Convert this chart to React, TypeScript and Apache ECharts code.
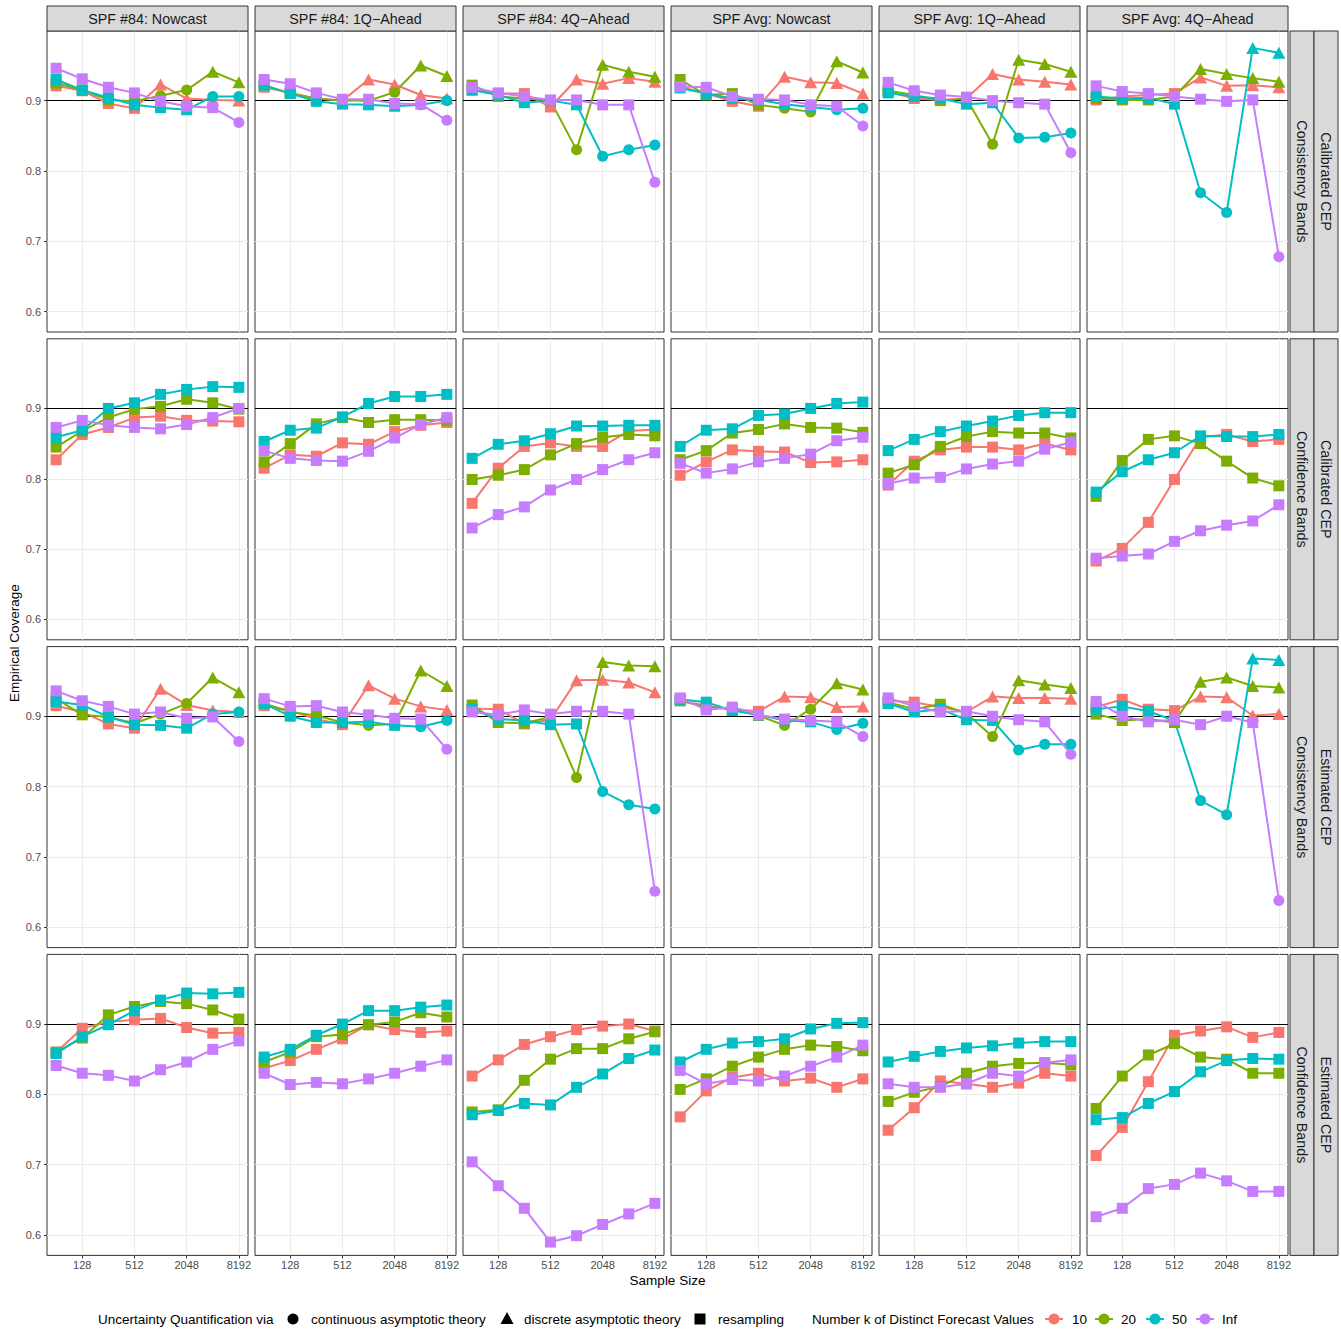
import React, { useEffect, useRef } from 'react';
import * as echarts from 'echarts';

const FONT = '"Liberation Sans", Arial, sans-serif';

const SAMPLE_SIZES = [64, 128, 256, 512, 1024, 2048, 4096, 8192];
const X_TICKS = [128, 512, 2048, 8192];
const Y_TICKS = [0.6, 0.7, 0.8, 0.9];
const TARGET_COVERAGE = 0.9;
const K_LEVELS = ['10', '20', '50', 'Inf'];
const K_COLORS = ['#F8766D', '#7CAE00', '#00BFC4', '#C77CFF'];
const COLUMNS = [
  'SPF #84: Nowcast',
  'SPF #84: 1Q\u2212Ahead',
  'SPF #84: 4Q\u2212Ahead',
  'SPF Avg: Nowcast',
  'SPF Avg: 1Q\u2212Ahead',
  'SPF Avg: 4Q\u2212Ahead',
];
const ROW_CEP = ['Calibrated CEP', 'Calibrated CEP', 'Estimated CEP', 'Estimated CEP'];
const ROW_BAND = ['Consistency Bands', 'Confidence Bands', 'Consistency Bands', 'Confidence Bands'];
const METHODS = ['continuous asymptotic theory', 'discrete asymptotic theory', 'resampling'];

// ---- Calibrated CEP, Consistency Bands (series order: k = 10, 20, 50, Inf)
const calCons84Now = [
  [0.921, 0.914, 0.896, 0.889, 0.923, 0.903, 0.901, 0.900],
  [0.925, 0.915, 0.901, 0.899, 0.907, 0.915, 0.941, 0.926],
  [0.930, 0.915, 0.904, 0.894, 0.890, 0.887, 0.906, 0.906],
  [0.946, 0.931, 0.919, 0.911, 0.899, 0.892, 0.890, 0.869],
];
const calCons84Q1 = [
  [0.919, 0.911, 0.903, 0.900, 0.930, 0.923, 0.908, 0.903],
  [0.922, 0.910, 0.903, 0.900, 0.900, 0.912, 0.950, 0.935],
  [0.922, 0.910, 0.899, 0.895, 0.894, 0.892, 0.894, 0.900],
  [0.930, 0.924, 0.911, 0.902, 0.902, 0.896, 0.895, 0.872],
];
const calCons84Q4 = [
  [0.915, 0.910, 0.910, 0.891, 0.930, 0.924, 0.932, 0.927],
  [0.922, 0.906, 0.903, 0.900, 0.830, 0.951, 0.941, 0.934],
  [0.915, 0.908, 0.897, 0.900, 0.894, 0.821, 0.830, 0.837],
  [0.919, 0.911, 0.906, 0.901, 0.901, 0.894, 0.894, 0.784],
];
const calConsAvgNow = [
  [0.920, 0.910, 0.899, 0.892, 0.934, 0.926, 0.925, 0.910],
  [0.930, 0.908, 0.910, 0.894, 0.889, 0.884, 0.956, 0.940],
  [0.918, 0.910, 0.903, 0.901, 0.895, 0.891, 0.887, 0.889],
  [0.920, 0.919, 0.906, 0.902, 0.901, 0.894, 0.892, 0.864],
];
const calConsAvgQ1 = [
  [0.913, 0.903, 0.901, 0.903, 0.938, 0.930, 0.927, 0.923],
  [0.914, 0.908, 0.900, 0.903, 0.838, 0.958, 0.952, 0.941],
  [0.911, 0.906, 0.903, 0.895, 0.897, 0.847, 0.848, 0.854],
  [0.926, 0.914, 0.908, 0.905, 0.900, 0.897, 0.895, 0.826],
];
const calConsAvgQ4 = [
  [0.901, 0.906, 0.908, 0.910, 0.933, 0.921, 0.922, 0.919],
  [0.903, 0.901, 0.901, 0.906, 0.945, 0.938, 0.932, 0.927],
  [0.906, 0.903, 0.904, 0.895, 0.769, 0.741, 0.975, 0.968],
  [0.921, 0.913, 0.910, 0.906, 0.902, 0.899, 0.901, 0.678],
];

// ---- Calibrated CEP, Confidence Bands
const calConf84Now = [
  [0.827, 0.863, 0.873, 0.887, 0.889, 0.883, 0.882, 0.881],
  [0.845, 0.868, 0.887, 0.899, 0.903, 0.913, 0.908, 0.899],
  [0.859, 0.869, 0.900, 0.908, 0.920, 0.927, 0.931, 0.930],
  [0.873, 0.883, 0.876, 0.873, 0.871, 0.877, 0.887, 0.900],
];
const calConf84Q1 = [
  [0.815, 0.834, 0.832, 0.851, 0.849, 0.867, 0.876, 0.880],
  [0.824, 0.850, 0.878, 0.887, 0.880, 0.884, 0.884, 0.883],
  [0.853, 0.869, 0.872, 0.888, 0.907, 0.917, 0.917, 0.920],
  [0.840, 0.829, 0.826, 0.825, 0.839, 0.858, 0.877, 0.887],
];
const calConf84Q4 = [
  [0.765, 0.815, 0.846, 0.851, 0.846, 0.846, 0.868, 0.870],
  [0.799, 0.805, 0.813, 0.834, 0.850, 0.859, 0.863, 0.861],
  [0.829, 0.849, 0.854, 0.864, 0.875, 0.875, 0.876, 0.876],
  [0.730, 0.749, 0.760, 0.784, 0.799, 0.813, 0.827, 0.837],
];
const calConfAvgNow = [
  [0.805, 0.824, 0.841, 0.839, 0.838, 0.823, 0.824, 0.827],
  [0.827, 0.840, 0.865, 0.870, 0.878, 0.873, 0.872, 0.866],
  [0.846, 0.869, 0.871, 0.890, 0.892, 0.900, 0.907, 0.909],
  [0.822, 0.808, 0.814, 0.824, 0.829, 0.835, 0.854, 0.859],
];
const calConfAvgQ1 = [
  [0.791, 0.825, 0.841, 0.845, 0.845, 0.841, 0.850, 0.841],
  [0.808, 0.820, 0.846, 0.860, 0.867, 0.865, 0.865, 0.858],
  [0.840, 0.856, 0.867, 0.875, 0.882, 0.890, 0.894, 0.894],
  [0.793, 0.801, 0.802, 0.814, 0.821, 0.825, 0.842, 0.852],
];
const calConfAvgQ4 = [
  [0.683, 0.701, 0.738, 0.799, 0.859, 0.863, 0.853, 0.856],
  [0.775, 0.826, 0.856, 0.861, 0.850, 0.825, 0.801, 0.790],
  [0.781, 0.810, 0.827, 0.837, 0.861, 0.860, 0.860, 0.863],
  [0.687, 0.690, 0.693, 0.711, 0.726, 0.734, 0.740, 0.763],
];

// ---- Estimated CEP, Consistency Bands
const estCons84Now = [
  [0.915, 0.906, 0.889, 0.883, 0.939, 0.916, 0.908, 0.906],
  [0.925, 0.902, 0.899, 0.890, 0.903, 0.918, 0.955, 0.934],
  [0.921, 0.916, 0.899, 0.888, 0.887, 0.883, 0.903, 0.906],
  [0.936, 0.922, 0.914, 0.903, 0.906, 0.897, 0.899, 0.864],
];
const estCons84Q1 = [
  [0.915, 0.908, 0.896, 0.888, 0.944, 0.925, 0.914, 0.909],
  [0.918, 0.906, 0.901, 0.891, 0.887, 0.889, 0.965, 0.943],
  [0.918, 0.900, 0.891, 0.891, 0.892, 0.887, 0.885, 0.894],
  [0.925, 0.914, 0.915, 0.906, 0.902, 0.897, 0.896, 0.853],
];
const estCons84Q4 = [
  [0.911, 0.910, 0.889, 0.895, 0.951, 0.952, 0.948, 0.934],
  [0.916, 0.891, 0.890, 0.899, 0.813, 0.977, 0.972, 0.971],
  [0.910, 0.896, 0.894, 0.888, 0.889, 0.793, 0.774, 0.768],
  [0.906, 0.902, 0.909, 0.903, 0.907, 0.907, 0.903, 0.651],
];
const estConsAvgNow = [
  [0.922, 0.915, 0.910, 0.907, 0.928, 0.927, 0.913, 0.914],
  [0.922, 0.913, 0.910, 0.901, 0.887, 0.910, 0.947, 0.938],
  [0.924, 0.920, 0.908, 0.902, 0.894, 0.892, 0.881, 0.890],
  [0.926, 0.909, 0.913, 0.902, 0.896, 0.894, 0.892, 0.871],
];
const estConsAvgQ1 = [
  [0.922, 0.920, 0.913, 0.906, 0.928, 0.926, 0.926, 0.925],
  [0.920, 0.910, 0.917, 0.904, 0.871, 0.951, 0.945, 0.940],
  [0.918, 0.906, 0.910, 0.895, 0.894, 0.852, 0.860, 0.860],
  [0.926, 0.914, 0.906, 0.907, 0.900, 0.895, 0.892, 0.846],
];
const estConsAvgQ4 = [
  [0.913, 0.924, 0.910, 0.908, 0.928, 0.927, 0.901, 0.903],
  [0.903, 0.894, 0.896, 0.891, 0.949, 0.955, 0.943, 0.941],
  [0.910, 0.914, 0.907, 0.894, 0.780, 0.760, 0.982, 0.980],
  [0.921, 0.900, 0.892, 0.895, 0.888, 0.900, 0.891, 0.638],
];

// ---- Estimated CEP, Confidence Bands
const estConf84Now = [
  [0.860, 0.894, 0.903, 0.906, 0.908, 0.895, 0.887, 0.888],
  [0.860, 0.880, 0.913, 0.925, 0.932, 0.929, 0.920, 0.907],
  [0.858, 0.882, 0.899, 0.919, 0.934, 0.944, 0.943, 0.945],
  [0.841, 0.830, 0.827, 0.819, 0.835, 0.846, 0.864, 0.876],
];
const estConf84Q1 = [
  [0.837, 0.848, 0.864, 0.879, 0.899, 0.892, 0.888, 0.890],
  [0.846, 0.860, 0.882, 0.885, 0.899, 0.903, 0.916, 0.910],
  [0.853, 0.864, 0.884, 0.900, 0.919, 0.919, 0.924, 0.927],
  [0.830, 0.814, 0.817, 0.815, 0.822, 0.830, 0.840, 0.849],
];
const estConf84Q4 = [
  [0.826, 0.849, 0.871, 0.882, 0.892, 0.897, 0.900, 0.890],
  [0.775, 0.778, 0.820, 0.850, 0.865, 0.865, 0.879, 0.889],
  [0.771, 0.777, 0.787, 0.785, 0.810, 0.829, 0.851, 0.863],
  [0.704, 0.670, 0.638, 0.590, 0.599, 0.615, 0.630, 0.645],
];
const estConfAvgNow = [
  [0.768, 0.805, 0.824, 0.830, 0.819, 0.823, 0.810, 0.822],
  [0.807, 0.822, 0.840, 0.853, 0.864, 0.870, 0.868, 0.862],
  [0.846, 0.864, 0.873, 0.875, 0.879, 0.893, 0.901, 0.902],
  [0.834, 0.815, 0.821, 0.819, 0.826, 0.840, 0.853, 0.870],
];
const estConfAvgQ1 = [
  [0.749, 0.781, 0.819, 0.815, 0.810, 0.816, 0.830, 0.826],
  [0.790, 0.803, 0.811, 0.830, 0.840, 0.844, 0.845, 0.842],
  [0.846, 0.854, 0.861, 0.866, 0.869, 0.873, 0.875, 0.875],
  [0.815, 0.810, 0.810, 0.815, 0.830, 0.826, 0.845, 0.849],
];
const estConfAvgQ4 = [
  [0.713, 0.753, 0.818, 0.884, 0.890, 0.896, 0.881, 0.888],
  [0.780, 0.826, 0.856, 0.872, 0.853, 0.850, 0.830, 0.830],
  [0.764, 0.767, 0.787, 0.804, 0.832, 0.848, 0.851, 0.850],
  [0.626, 0.638, 0.666, 0.672, 0.688, 0.677, 0.662, 0.662],
];

// Method used at each sample size: s = resampling, c = continuous asymptotic, t = discrete asymptotic
const consShapes84Now = ['sssstttt', 'sssscctt', 'sssssscc', 'sssssssc'];
const consShapes84Q1 = ['sssstttt', 'sssscctt', 'sssssscc', 'sssssssc'];
const consShapes84Q4 = ['sssstttt', 'sssscttt', 'sssssccc', 'sssssssc'];
const consShapesAvgNow = ['sssstttt', 'sssscctt', 'sssssscc', 'sssssssc'];
const consShapesAvgQ1 = ['sssstttt', 'sssscttt', 'sssssccc', 'sssssssc'];
const consShapesAvgQ4 = ['sssstttt', 'sssstttt', 'sssscctt', 'sssssssc'];
const confShapes = ['ssssssss', 'ssssssss', 'ssssssss', 'ssssssss'];

const PANEL_VALUES = [
  [calCons84Now, calCons84Q1, calCons84Q4, calConsAvgNow, calConsAvgQ1, calConsAvgQ4],
  [calConf84Now, calConf84Q1, calConf84Q4, calConfAvgNow, calConfAvgQ1, calConfAvgQ4],
  [estCons84Now, estCons84Q1, estCons84Q4, estConsAvgNow, estConsAvgQ1, estConsAvgQ4],
  [estConf84Now, estConf84Q1, estConf84Q4, estConfAvgNow, estConfAvgQ1, estConfAvgQ4],
];
const CONS_SHAPES = [consShapes84Now, consShapes84Q1, consShapes84Q4, consShapesAvgNow, consShapesAvgQ1, consShapesAvgQ4];

// ---- layout
const W = 1341;
const H = 1331;
const LEFT0 = 47;
const COL_STEP = 208;
const PANEL_W = 201;
const TOP0 = 31;
const ROW_STEP = 307.8;
const PANEL_H = 301;
const X_MIN = 5.65;
const X_MAX = 13.35;
const Y_MIN = 0.571;
const Y_MAX = 0.999;
const STRIP_FONT = 14.3;

const SYMBOLS: Record<string, { symbol: string; size: number | number[] }> = {
  s: { symbol: 'rect', size: 11 },
  c: { symbol: 'circle', size: 11 },
  t: { symbol: 'triangle', size: [13, 12] },
};

function buildOption() {
  const grids: any[] = [];
  const xAxes: any[] = [];
  const yAxes: any[] = [];
  const series: any[] = [];
  const graphic: any[] = [];

  for (let r = 0; r < 4; r++) {
    for (let c = 0; c < 6; c++) {
      const idx = r * 6 + c;
      const left = LEFT0 + c * COL_STEP;
      const top = TOP0 + r * ROW_STEP;
      grids.push({
        left, top, width: PANEL_W, height: PANEL_H,
        show: true, borderColor: '#333333', borderWidth: 1, backgroundColor: '#FFFFFF',
        containLabel: false, outerBoundsMode: 'none',
      });
      xAxes.push({
        gridIndex: idx, type: 'value', min: X_MIN, max: X_MAX, minInterval: 1, maxInterval: 1,
        axisLine: { show: false },
        axisTick: { show: r === 3, customValues: X_TICKS.map((v) => Math.log2(v)), length: 3, lineStyle: { color: '#333333' } },
        axisLabel: {
          show: r === 3, customValues: X_TICKS.map((v) => Math.log2(v)),
          formatter: (v: number) => String(Math.round(Math.pow(2, v))),
          fontSize: 11, color: '#4D4D4D', fontFamily: FONT, margin: 4,
        },
        splitLine: { show: true, lineStyle: { color: '#EBEBEB', width: 1 } },
      });
      yAxes.push({
        gridIndex: idx, type: 'value', min: Y_MIN, max: Y_MAX, minInterval: 0.05, maxInterval: 0.05,
        axisLine: { show: false },
        axisTick: { show: c === 0, customValues: Y_TICKS, length: 3, lineStyle: { color: '#333333' } },
        axisLabel: {
          show: c === 0, customValues: Y_TICKS,
          formatter: (v: number) => v.toFixed(1),
          fontSize: 11, color: '#4D4D4D', fontFamily: FONT, margin: 6,
        },
        splitLine: { show: true, lineStyle: { color: '#EBEBEB', width: 1 } },
      });

      const vals = PANEL_VALUES[r][c];
      const shapes = r % 2 === 0 ? CONS_SHAPES[c] : confShapes;
      for (let k = 0; k < 4; k++) {
        const pts = SAMPLE_SIZES.map((n, j) => [Math.log2(n), vals[k][j]]);
        const lineSeries: any = {
          type: 'line', xAxisIndex: idx, yAxisIndex: idx, data: pts,
          showSymbol: false, symbol: 'none', silent: true, z: 2,
          lineStyle: { color: K_COLORS[k], width: 2 },
          itemStyle: { color: K_COLORS[k] },
        };
        if (k === 0) {
          lineSeries.markLine = {
            silent: true, symbol: ['none', 'none'], label: { show: false }, z: 1,
            lineStyle: { color: '#000000', width: 1, type: 'solid' },
            data: [{ yAxis: TARGET_COVERAGE }],
            animation: false,
          };
        }
        series.push(lineSeries);
        series.push({
          type: 'scatter', xAxisIndex: idx, yAxisIndex: idx, silent: true, z: 3,
          data: pts.map((p, j) => {
            const s = SYMBOLS[shapes[k][j]];
            return { value: p, symbol: s.symbol, symbolSize: s.size };
          }),
          itemStyle: { color: K_COLORS[k], opacity: 1 },
        });
      }
    }
  }

  // top strips
  for (let c = 0; c < 6; c++) {
    const left = LEFT0 + c * COL_STEP;
    graphic.push({
      type: 'rect', shape: { x: left, y: 6, width: PANEL_W, height: 25 },
      style: { fill: '#D9D9D9', stroke: '#333333', lineWidth: 1 }, z: 10,
    });
    graphic.push({
      type: 'text', x: left + PANEL_W / 2, y: 19, z: 11,
      style: { text: COLUMNS[c], fontSize: STRIP_FONT, fontFamily: FONT, fill: '#1A1A1A', align: 'center', verticalAlign: 'middle' },
    });
  }
  // right strips
  for (let r = 0; r < 4; r++) {
    const top = TOP0 + r * ROW_STEP;
    const labels = [ROW_BAND[r], ROW_CEP[r]];
    for (let j = 0; j < 2; j++) {
      const x = 1290 + j * 24;
      graphic.push({
        type: 'rect', shape: { x, y: top, width: 24, height: PANEL_H },
        style: { fill: '#D9D9D9', stroke: '#333333', lineWidth: 1 }, z: 10,
      });
      graphic.push({
        type: 'text', x: x + 12, y: top + PANEL_H / 2, rotation: -Math.PI / 2, z: 11,
        style: { text: labels[j], fontSize: STRIP_FONT, fontFamily: FONT, fill: '#1A1A1A', align: 'center', verticalAlign: 'middle' },
      });
    }
  }
  // axis titles
  graphic.push({
    type: 'text', x: LEFT0 + (5 * COL_STEP + PANEL_W) / 2, y: 1280, z: 11,
    style: { text: 'Sample Size', fontSize: 13.5, fontFamily: FONT, fill: '#000000', align: 'center', verticalAlign: 'middle' },
  });
  graphic.push({
    type: 'text', x: 14, y: TOP0 + (3 * ROW_STEP + PANEL_H) / 2, rotation: Math.PI / 2, z: 11,
    style: { text: 'Empirical Coverage', fontSize: 13.5, fontFamily: FONT, fill: '#000000', align: 'center', verticalAlign: 'middle' },
  });

  // legend
  const LY = 1319;
  const txt = (text: string, x: number) => ({
    type: 'text', x, y: LY, z: 11,
    style: { text, fontSize: 13.5, fontFamily: FONT, fill: '#000000', align: 'left', verticalAlign: 'middle' },
  });
  graphic.push(txt('Uncertainty Quantification via', 98));
  graphic.push({ type: 'circle', shape: { cx: 293, cy: LY, r: 5.5 }, style: { fill: '#000000' }, z: 11 });
  graphic.push(txt(METHODS[0], 311));
  graphic.push({ type: 'polygon', shape: { points: [[507, LY - 7], [500.5, LY + 5], [513.5, LY + 5]] }, style: { fill: '#000000' }, z: 11 });
  graphic.push(txt(METHODS[1], 524));
  graphic.push({ type: 'rect', shape: { x: 694.5, y: LY - 5.5, width: 11, height: 11 }, style: { fill: '#000000' }, z: 11 });
  graphic.push(txt(METHODS[2], 718));
  graphic.push(txt('Number k of Distinct Forecast Values', 812));
  const keyX = [1054, 1104, 1155, 1205];
  const keyLabelX = [1072, 1121, 1172, 1222];
  for (let k = 0; k < 4; k++) {
    graphic.push({ type: 'line', shape: { x1: keyX[k] - 9, y1: LY, x2: keyX[k] + 9, y2: LY }, style: { stroke: K_COLORS[k], lineWidth: 2 }, z: 11 });
    graphic.push({ type: 'circle', shape: { cx: keyX[k], cy: LY, r: 5.5 }, style: { fill: K_COLORS[k] }, z: 12 });
    graphic.push(txt(K_LEVELS[k], keyLabelX[k]));
  }

  return {
    animation: false,
    backgroundColor: '#FFFFFF',
    textStyle: { fontFamily: FONT },
    grid: grids,
    xAxis: xAxes,
    yAxis: yAxes,
    series,
    graphic: { elements: graphic },
  };
}

export default function App() {
  const ref = useRef<HTMLDivElement>(null);
  useEffect(() => {
    if (!ref.current) return;
    const chart = echarts.init(ref.current, undefined, { renderer: 'svg', width: W, height: H });
    chart.setOption(buildOption() as any);
    return () => chart.dispose();
  }, []);
  return <div ref={ref} style={{ position: 'absolute', left: 0, top: 0, width: W, height: H, background: '#fff' }} />;
}
